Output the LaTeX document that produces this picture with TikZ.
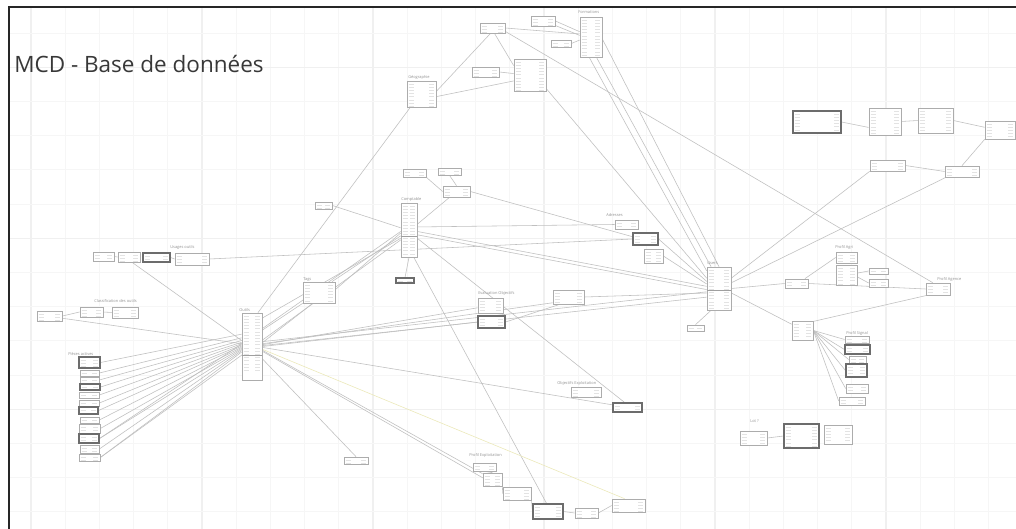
\documentclass[tikz,border=0pt]{standalone}
\usepackage{fontspec}
\setmainfont{Open Sans}
\usetikzlibrary{fit,calc}
\pgfdeclarelayer{gridlayer}
\pgfdeclarelayer{edgelayer}
\pgfsetlayers{gridlayer,edgelayer,main}
\tikzset{
  tbl/.style={draw=gray!65, line width=0.5pt, fill=white, inner sep=0pt,
    path picture={
      \foreach \r in {2.8,6.0,...,60} {
        \draw[gray!22, line width=0.4pt] ($(path picture bounding box.north west)+(1.6,\r)$) -- ++(5.5,0);
        \draw[gray!22, line width=0.4pt] ($(path picture bounding box.north east)+(-7,\r)$) -- ++(5,0);
      }
    }},
  tblb/.style={tbl, draw=gray!85!black, line width=0.75pt},
  conn/.style={draw=gray!50, line width=0.4pt},
  yconn/.style={draw=yellow!55!gray!40, line width=0.4pt},
  ttl/.style={font=\fontsize{2.8}{3}\selectfont, text=gray!85, inner sep=0pt, anchor=base west},
  divl/.style={draw=gray!75, line width=0.7pt}
}
\newcommand{\tb}[6][tbl]{\node[#1, fit={(#3,#4) (#5,#6)}] (#2) {};}
\begin{document}
\begin{tikzpicture}[x=0.25mm,y=-0.25mm]
\useasboundingbox (0,0) rectangle (1016,529);
\begin{pgfonlayer}{gridlayer}
  \fill[white] (0,0) rectangle (1016,529);
  \foreach \i in {0,...,28} {
    \pgfmathsetmacro\gx{31+34.2*\i}
    \pgfmathtruncatemacro\m{mod(\i,5)}
    \ifnum\m=0
      \draw[gray!12, line width=0.75pt] (\gx,7) -- (\gx,529);
    \else
      \draw[gray!7, line width=0.55pt] (\gx,7) -- (\gx,529);
    \fi
  }
  \foreach \i in {0,...,14} {
    \pgfmathsetmacro\gy{33+34.2*\i}
    \pgfmathtruncatemacro\m{mod(\i,5)}
    \ifnum\m=1
      \draw[gray!12, line width=0.75pt] (9,\gy) -- (1016,\gy);
    \else
      \draw[gray!7, line width=0.55pt] (9,\gy) -- (1016,\gy);
    \fi
  }
  \draw[black!85, line width=1.4pt] (9,529) -- (9,7) -- (1016,7);
\end{pgfonlayer}

\node[font=\fontsize{16}{19}\selectfont, text=black!78, anchor=base west, inner sep=0pt] (title) at (14,73) {MCD - Base de données};

% top centre
\tb{nA}{480}{23}{505}{33}
\tb{nB}{531}{16}{555}{26}
\tb{nF}{580}{17}{602}{57}
\node[ttl] (tF) at (578,14) {Formations};
\tb{nC}{551}{40}{571}{47}
\tb{nD}{514}{59}{546}{91}
\tb{nE}{472}{67}{499}{77}
\tb{nG}{407}{81}{436}{107}
\node[ttl] (tG) at (408,79) {Géographie};

% top right
\tb[tblb]{nS}{793}{111}{841}{133}
\tb{nH}{869}{108}{901}{135}
\tb{nI}{918}{108}{953}{133}
\tb{nJ}{985}{121}{1015}{139}
\tb{nK}{870}{160}{905}{171}
\tb{nL}{945}{166}{979}{177}

% middle
\tb{nM1}{403}{169}{426}{177}
\tb{nM2}{438}{168}{461}{175}
\tb{nM3}{443}{186}{470}{197}
\tb{nSm}{315}{202}{332}{209}
\tb{nCpt}{401}{203}{417}{257}
\node[ttl] (tCpt) at (401,201) {Comptable};
\tb[tblb]{nCb}{396}{278}{414}{283}
\tb{nTags}{303}{282}{335}{303}
\node[ttl] (tTags) at (303,280) {Tags};

\tb{nAd1}{615}{220}{638}{229}
\node[ttl] (tAd) at (606,217) {Adresses};
\tb[tblb]{nAd2}{633}{233}{658}{245}
\tb{nAd3}{644}{249}{663}{263}
\tb{nU}{707}{267}{731}{310}
\node[ttl] (tU) at (707,265) {Users};
\tb{nUb}{687}{325}{704}{331}

% right
\tb{nM}{785}{279}{808}{288}
\tb{nPA1}{836}{252}{857}{263}
\tb{nPA2}{836}{265}{857}{285}
\node[ttl] (tPA) at (835,249) {Profil Agri};
\tb{nPAr1}{869}{268}{888}{274}
\tb{nPAr2}{869}{279}{888}{287}
\tb{nPAg}{926}{283}{950}{295}
\node[ttl] (tPAg) at (937,281) {Profil Agence};
\tb{nN}{792}{321}{813}{340}
\node[ttl] (tPS) at (846,334) {Profil Signal};
\tb{nPS1}{845}{336}{869}{343}
\tb[tblb]{nPS2}{845}{345}{870}{354}
\tb{nPS3}{849}{356}{866}{363}
\tb[tblb]{nPS4}{846}{364}{867}{377}
\tb{nPS5}{846}{384}{868}{393}
\tb{nPS6}{839}{397}{865}{405}

% left
\node[ttl] (tUo) at (170,249) {Usages outils};
\tb{nUo1}{93}{252}{114}{261}
\tb{nUo2}{118}{252}{140}{262}
\tb[tblb]{nUo3}{143}{253}{170}{262}
\tb{nUo4}{175}{253}{209}{265}
\node[ttl] (tCl) at (94,302) {Classification des outils};
\tb{nCl1}{37}{311}{62}{321}
\tb{nCl2}{80}{307}{103}{317}
\tb{nCl3}{112}{307}{138}{318}
\tb{nO}{242}{313}{262}{380}
\node[ttl] (tO) at (239,311) {Outils};
\node[ttl] (tZ) at (68,355) {Pièces actives};
\tb[tblb]{nZ1}{79}{357}{100}{368}
\tb{nZ2}{80}{370}{99}{376}
\tb{nZ3}{80}{377}{99}{383}
\tb[tblb]{nZ4}{80}{384}{100}{390}
\tb{nZ5}{79}{392}{99}{398}
\tb{nZ6}{79}{400}{99}{406}
\tb[tblb]{nZ7}{79}{407}{98}{414}
\tb{nZ8}{80}{417}{99}{423}
\tb{nZ9}{79}{424}{100}{433}
\tb[tblb]{nZ10}{79}{434}{99}{443}
\tb{nZ11}{80}{445}{99}{453}
\tb{nZ12}{79}{454}{100}{461}

% centre bottom
\node[ttl] (tEv) at (478,295) {Evaluation Objectifs};
\tb{nEv1}{478}{298}{503}{313}
\tb[tblb]{nEv2}{478}{316}{505}{328}
\tb{nR1}{553}{290}{584}{304}
\node[ttl] (tOb) at (557,384) {Objectifs Exploitation};
\tb{nOb1}{571}{387}{601}{397}
\tb[tblb]{nOb2}{613}{403}{642}{412}
\tb{nX}{344}{457}{368}{464}
\node[ttl] (tPE) at (469,456) {Profil Exploitation};
\tb{nPE1}{473}{463}{496}{471}
\tb{nPE2}{483}{473}{502}{486}
\tb{nPE3}{503}{487}{531}{500}
\tb[tblb]{nPE4}{533}{504}{563}{519}
\tb{nPE5}{575}{508}{598}{518}
\tb{nPE6}{612}{499}{645}{512}
\node[ttl] (tLo) at (750,422) {Lot ?};
\tb{nLo1}{740}{431}{767}{445}
\tb[tblb]{nLo2}{784}{424}{819}{448}
\tb{nLo3}{824}{425}{852}{444}

% dividers
\draw[divl] (nO.west |- 0,355) -- (nO.east |- 0,355);
\draw[divl] (nCpt.west |- 0,236) -- (nCpt.east |- 0,236);
\draw[divl] (nU.west |- 0,290) -- (nU.east |- 0,290);

\begin{pgfonlayer}{edgelayer}
  % top
  \draw[conn] (nA.east) -- (nF.165);
  \draw[conn] (nB.east) -- (nF.155);
  \draw[conn] (nB.-20) -- (nF.172);
  \draw[conn] (nC.east) -- (nF.195);
  \draw[conn] (nA.250) -- (nG.10);
  \draw[conn] (nA.290) -- (nD.150);
  \draw[conn] (nG.-10) -- (nD.200);
  \draw[conn] (nE.east) -- (nD.175);
  \draw[conn] (nA.-15) -- (nPAg.130);
  \draw[conn] (nD.-40) -- (nU.140);
  \draw[conn] (nF.-95) -- (nU.125);
  \draw[conn] (nF.-75) -- (nU.110);
  \draw[conn] (nF.-10) -- (nU.90);
  \draw[conn] (nG.230) -- (nO.80);
  % top right
  \draw[conn] (nS.east) -- (nH.200);
  \draw[conn] (nH.east) -- (nI.west);
  \draw[conn] (nI.east) -- (nJ.170);
  \draw[conn] (nL.north) -- (nJ.south west);
  \draw[conn] (nK.east) -- (nL.west);
  \draw[conn] (nU.40) -- (nK.south west);
  \draw[conn] (nU.25) -- (nL.200);
  % right
  \draw[conn] (nU.east) -- (nM.west);
  \draw[conn] (nM.east) -- (nPAg.west);
  \draw[conn] (nM.30) -- (nPA1.west);
  \draw[conn] (nPA2.10) -- (nPAr1.west);
  \draw[conn] (nPA2.-10) -- (nPAr2.west);
  \draw[conn] (nU.-20) -- (nN.150);
  \draw[conn] (nN.40) -- (nPAg.210);
  \foreach \k in {1,...,6} { \draw[conn] (nN.east) -- (nPS\k.west); }
  \draw[conn] (nU.250) -- (nUb.north);
  % middle
  \draw[conn] (nCpt.20) -- (nAd1.west);
  \draw[conn] (nUo4.east) -- (nAd2.west);
  \draw[conn] (nM3.east) -- (nAd2.170);
  \draw[conn] (nAd2.east) -- (nU.150);
  \draw[conn] (nAd3.east) -- (nU.160);
  \draw[conn] (nCpt.-10) -- (nU.170);
  \draw[conn] (nCpt.-30) -- (nU.185);
  \draw[conn] (nCpt.-80) -- (nPE4.100);
  \draw[conn] (nCpt.-45) -- (nOb2.120);
  \draw[conn] (nCpt.south) -- (nCb.north);
  \draw[conn] (nSm.east) -- (nCpt.165);
  \draw[conn] (nM1.-20) -- (nM3.west);
  \draw[conn] (nM2.south) -- (nM3.north);
  \draw[conn] (nM3.220) -- (nCpt.35);
  \draw[conn] (nTags.10) -- (nCpt.200);
  \draw[conn] (nTags.40) -- (nCpt.215);
  \draw[conn] (nO.60) -- (nCpt.190);
  \draw[conn] (nO.70) -- (nCpt.225);
  \draw[conn] (nTags.240) -- (nO.20);
  % left
  \draw[conn] (nUo1.east) -- (nUo2.west);
  \draw[conn] (nUo3.east) -- (nUo4.west);
  \draw[conn] (nUo2.-60) -- (nO.150);
  \draw[conn] (nCl1.east) -- (nCl2.west);
  \draw[conn] (nCl2.east) -- (nCl3.west);
  \draw[conn] (nCl1.-10) -- (nO.165);
  \foreach \k/\a in {1/130,2/140,3/150,4/158,5/165,6/172,7/178,8/184,9/190,10/196,11/202,12/208} {
    \draw[conn] (nZ\k.east) -- (nO.\a);
  }
  \draw[conn] (nZ10.east) -- (nTags.south west);
  \draw[conn] (nZ12.east) -- (nCpt.230);
  % Outils right side
  \draw[conn] (nO.10) -- (nEv1.190);
  \draw[conn] (nO.0) -- (nEv2.180);
  \draw[conn] (nO.15) -- (nR1.200);
  \draw[conn] (nO.25) -- (nU.195);
  \draw[conn] (nO.5) -- (nU.215);
  \draw[conn] (nO.-5) -- (nOb2.170);
  \draw[conn] (nO.-20) -- (nPE2.150);
  \draw[conn] (nO.-25) -- (nPE2.170);
  \draw[yconn] (nO.-15) -- (nPE6.120);
  \draw[conn] (nO.-50) -- (nX.north);
  \draw[conn] (nEv2.east) -- (nR1.220);
  \draw[conn] (nR1.east) -- (nU.200);
  % bottom
  \draw[conn] (nPE1.south) -- (nPE2.north);
  \draw[conn] (nPE2.-30) -- (nPE3.west);
  \draw[conn] (nPE3.-20) -- (nPE4.west);
  \draw[conn] (nPE4.east) -- (nPE5.west);
  \draw[conn] (nPE5.east) -- (nPE6.west);
  \draw[conn] (nLo1.east) -- (nLo2.west);
\end{pgfonlayer}
\end{tikzpicture}
\end{document}
